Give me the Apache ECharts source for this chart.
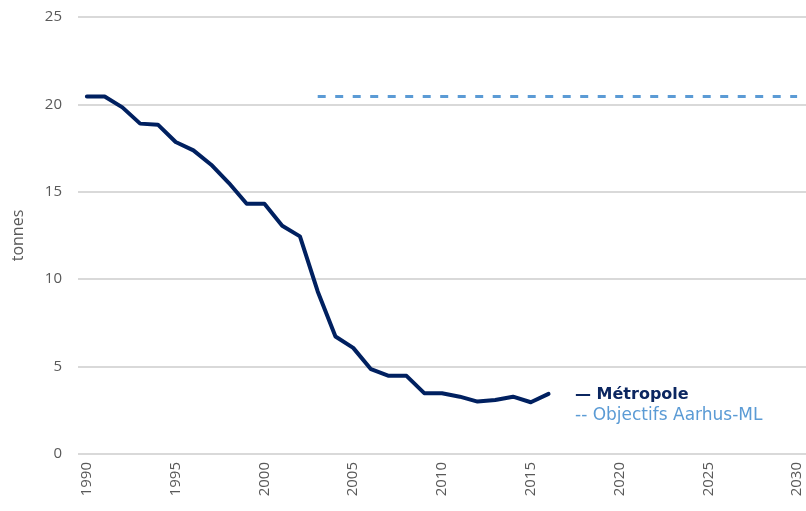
<!DOCTYPE html>
<html>
<head>
<meta charset="utf-8">
<script src="https://cdn.jsdelivr.net/npm/echarts@6/dist/echarts.min.js"></script>
<style>
  html, body { margin: 0; padding: 0; background: #ffffff; }
  #chart { width: 806px; height: 511px; }
</style>
</head>
<body>
<div id="chart"></div>
<script>
// Years shown on the horizontal axis (1990–2030)
const years = [];
for (let y = 1990; y <= 2030; y++) years.push(String(y));

// Emissions of the metropolis, tonnes (1990–2016)
const metropoleYears = ['1990','1991','1992','1993','1994','1995','1996','1997','1998','1999',
  '2000','2001','2002','2003','2004','2005','2006','2007','2008','2009',
  '2010','2011','2012','2013','2014','2015','2016'];
const metropoleValues = [20.45, 20.45, 19.83, 18.9, 18.84, 17.85, 17.37, 16.55, 15.5, 14.32,
  14.32, 13.06, 12.45, 9.3, 6.72, 6.07, 4.85, 4.47, 4.47, 3.48,
  3.48, 3.28, 3.0, 3.09, 3.28, 2.96, 3.44];

// Aarhus-ML objective, tonnes (2003–2030)
const objectifStart = 2003;
const objectifEnd = 2030;
const objectifValue = 20.45;

const yTicks = [0, 5, 10, 15, 20, 25];

const metropoleSeries = years.map(y => {
  const i = metropoleYears.indexOf(y);
  return i >= 0 ? metropoleValues[i] : null;
});
const objectifSeries = years.map(y => {
  const n = Number(y);
  return (n >= objectifStart && n <= objectifEnd) ? objectifValue : null;
});

const axisFont = '"Open Sans", sans-serif';
const legendFont = '"DejaVu Sans", Verdana, sans-serif';

const chart = echarts.init(document.getElementById('chart'));
chart.setOption({
  animation: false,
  backgroundColor: '#ffffff',
  grid: { left: 78, right: 0, top: 17, bottom: 57, containLabel: false },
  // Key placed beside the end of the series
  graphic: [
    {
      type: 'text', left: 575, top: 387,
      style: { text: '— Métropole', fill: '#0b2660', fontFamily: legendFont, fontSize: 16, fontWeight: 'bold' }
    },
    {
      type: 'text', left: 575, top: 407,
      style: { text: '-- Objectifs Aarhus-ML', fill: '#5b9bd5', fontFamily: legendFont, fontSize: 17 }
    }
  ],
  xAxis: {
    type: 'category',
    data: years,
    boundaryGap: true,
    axisLine: { show: false },
    axisTick: { show: false },
    splitLine: { show: false },
    axisLabel: {
      interval: 4,
      rotate: 90,
      color: '#595959',
      fontFamily: axisFont,
      fontSize: 15,
      margin: 8
    }
  },
  yAxis: {
    type: 'value',
    min: yTicks[0],
    max: yTicks[yTicks.length - 1],
    interval: 5,
    name: 'tonnes',
    nameLocation: 'middle',
    nameRotate: 90,
    nameGap: 52,
    nameTextStyle: { color: '#595959', fontFamily: axisFont, fontSize: 16 },
    axisLine: { show: false },
    axisTick: { show: false },
    axisLabel: { color: '#595959', fontFamily: axisFont, fontSize: 15, margin: 16 },
    splitLine: { lineStyle: { color: '#d9d9d9', width: 2 } }
  },
  series: [
    {
      name: 'Métropole',
      type: 'line',
      data: metropoleSeries,
      symbol: 'none',
      connectNulls: false,
      lineStyle: { color: '#002060', width: 4, cap: 'round', join: 'round' },
      itemStyle: { color: '#002060' },
      z: 3
    },
    {
      name: 'Objectifs Aarhus-ML',
      type: 'line',
      data: objectifSeries,
      symbol: 'none',
      lineStyle: { color: '#5b9bd5', width: 3, type: [8, 9.5] },
      itemStyle: { color: '#5b9bd5' },
      z: 2
    }
  ]
});
</script>
</body>
</html>
